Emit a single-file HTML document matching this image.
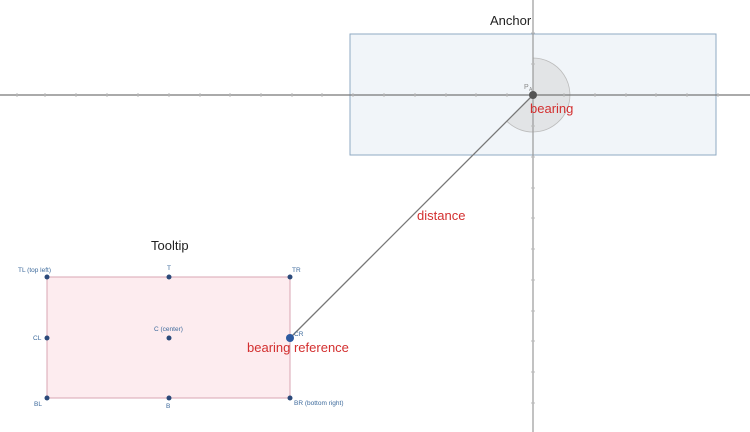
<!DOCTYPE html>
<html><head><style>body{margin:0;background:#fff}svg{display:block}</style></head><body>
<svg width="750" height="432" xmlns="http://www.w3.org/2000/svg" font-family="Liberation Sans, sans-serif">
<rect x="350" y="34" width="366" height="121" fill="#f1f5f9" stroke="#8faac3" stroke-width="1"/>
<rect x="47" y="277" width="243" height="121" fill="#fdecef" stroke="#d9a6b3" stroke-width="1"/>
<path d="M533,95 L533,58 A37,37 0 1 1 506.8,121.2 Z" fill="#d8d8d8" fill-opacity="0.6" stroke="#bbb" stroke-width="0.8"/>
<line x1="0" y1="95" x2="750" y2="95" stroke="#777" stroke-width="1.2"/>
<line x1="533" y1="0" x2="533" y2="432" stroke="#999" stroke-width="1.2"/>
<g stroke="#bbb" stroke-width="1">
<line x1="17" y1="93" x2="17" y2="97"/><line x1="45" y1="93" x2="45" y2="97"/><line x1="76" y1="93" x2="76" y2="97"/><line x1="107" y1="93" x2="107" y2="97"/><line x1="138" y1="93" x2="138" y2="97"/><line x1="169" y1="93" x2="169" y2="97"/><line x1="200" y1="93" x2="200" y2="97"/><line x1="230" y1="93" x2="230" y2="97"/><line x1="261" y1="93" x2="261" y2="97"/><line x1="292" y1="93" x2="292" y2="97"/><line x1="322" y1="93" x2="322" y2="97"/><line x1="353" y1="93" x2="353" y2="97"/><line x1="384" y1="93" x2="384" y2="97"/><line x1="415" y1="93" x2="415" y2="97"/><line x1="446" y1="93" x2="446" y2="97"/><line x1="476" y1="93" x2="476" y2="97"/><line x1="507" y1="93" x2="507" y2="97"/><line x1="564" y1="93" x2="564" y2="97"/><line x1="595" y1="93" x2="595" y2="97"/><line x1="626" y1="93" x2="626" y2="97"/><line x1="656" y1="93" x2="656" y2="97"/><line x1="687" y1="93" x2="687" y2="97"/><line x1="718" y1="93" x2="718" y2="97"/>
<line x1="531" y1="188" x2="535" y2="188"/><line x1="531" y1="218" x2="535" y2="218"/><line x1="531" y1="249" x2="535" y2="249"/><line x1="531" y1="280" x2="535" y2="280"/><line x1="531" y1="311" x2="535" y2="311"/><line x1="531" y1="341" x2="535" y2="341"/><line x1="531" y1="372" x2="535" y2="372"/><line x1="531" y1="403" x2="535" y2="403"/><line x1="531" y1="157" x2="535" y2="157"/><line x1="531" y1="126" x2="535" y2="126"/><line x1="531" y1="64" x2="535" y2="64"/><line x1="531" y1="33" x2="535" y2="33"/>
</g>
<line x1="533" y1="95" x2="290" y2="338" stroke="#777" stroke-width="1.3"/>
<circle cx="533" cy="95" r="4" fill="#555"/>
<text x="524" y="89" font-size="7" fill="#888">P</text><text x="529" y="91" font-size="5" fill="#888">A</text>
<text x="530" y="113" font-size="13" fill="#d32f2f">bearing</text>
<text x="490" y="25" font-size="13" fill="#222">Anchor</text>
<text x="151" y="250" font-size="13" fill="#222">Tooltip</text>
<text x="417" y="220" font-size="13" fill="#d32f2f">distance</text>
<g fill="#2c4a7a">
<circle cx="47" cy="277" r="2.5"/><circle cx="169" cy="277" r="2.5"/><circle cx="290" cy="277" r="2.5"/>
<circle cx="47" cy="338" r="2.5"/><circle cx="169" cy="338" r="2.5"/>
<circle cx="47" cy="398" r="2.5"/><circle cx="169" cy="398" r="2.5"/><circle cx="290" cy="398" r="2.5"/>
<circle cx="290" cy="338" r="4" fill="#2d5aa0"/>
</g>
<g font-size="6.5" fill="#3d6a9c">
<text x="18" y="272">TL (top left)</text><text x="167" y="270">T</text><text x="292" y="272">TR</text>
<text x="33" y="340">CL</text><text x="154" y="331">C (center)</text><text x="294" y="336">CR</text>
<text x="34" y="406">BL</text><text x="166" y="408">B</text><text x="294" y="405">BR (bottom right)</text>
</g>
<text x="247" y="352" font-size="13" fill="#d32f2f">bearing reference</text>
</svg>
</body></html>
